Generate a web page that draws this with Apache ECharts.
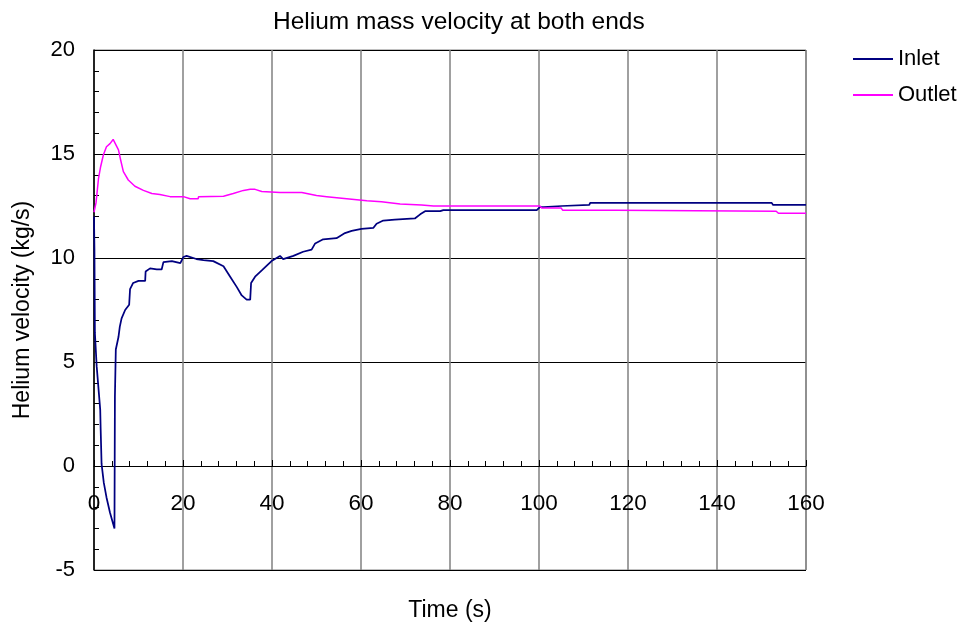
<!DOCTYPE html>
<html>
<head>
<meta charset="utf-8">
<script src="https://cdn.jsdelivr.net/npm/echarts@6/dist/echarts.min.js"></script>
<style>html,body{margin:0;padding:0;background:#fff}#c{width:963px;height:625px}</style>
</head>
<body>
<div id="c"></div>
<script>
var titleText = 'Helium mass velocity at both ends';
var xName = 'Time (s)';
var yName = 'Helium velocity (kg/s)';
var seriesNames = ['Inlet', 'Outlet'];

var inletT = [0, 0.1, 0.2, 0.6, 1.4, 1.5, 1.7, 2.2, 2.8, 3.6, 4.6, 4.7, 4.9, 5.5, 5.8, 6.2, 7.0, 7.9, 8.1, 8.8, 10, 11.5, 11.6, 12.6, 14.1, 15.2, 15.6, 17.5, 19.4, 20.1, 20.8, 23, 24.6, 26.8, 29.1, 30.6, 32.1, 33.2, 34.3, 35.1, 35.3, 36.2, 37.7, 39.9, 41.8, 42.5, 44.8, 47, 48.9, 49.7, 51.5, 54.5, 56.4, 57.9, 60.1, 62.8, 63.5, 65, 67.6, 72.1, 73.3, 74.4, 77.8, 78.5, 99.5, 100.2, 101, 105.1, 105.3, 111.3, 111.5, 152.3, 152.6, 160];
var inletV = [12.0, 10.4, 6.4, 4.8, 2.7, 1.75, 0.1, -0.8, -1.5, -2.25, -3.0, 3.35, 5.6, 6.2, 6.7, 7.1, 7.5, 7.75, 8.5, 8.8, 8.9, 8.9, 9.35, 9.5, 9.45, 9.45, 9.8, 9.85, 9.75, 10.05, 10.1, 9.95, 9.9, 9.85, 9.6, 9.1, 8.6, 8.2, 8.0, 8.0, 8.8, 9.1, 9.4, 9.85, 10.1, 9.95, 10.1, 10.3, 10.4, 10.7, 10.9, 10.95, 11.2, 11.3, 11.4, 11.45, 11.65, 11.8, 11.85, 11.9, 12.1, 12.25, 12.25, 12.3, 12.3, 12.45, 12.45, 12.5, 12.55, 12.55, 12.65, 12.65, 12.55, 12.55];

var outletT = [0, 0.45, 1.0, 1.5, 2.1, 2.8, 3.6, 4.3, 4.7, 5.5, 6.0, 6.6, 7.7, 9.2, 11.1, 13, 14.8, 17.1, 20.1, 21.6, 23.4, 23.5, 29.1, 31.3, 33.6, 35.1, 36.2, 37.7, 41.8, 46.7, 47, 50, 52.3, 56.8, 61.3, 64.6, 68.8, 73.6, 76.3, 100.2, 100.6, 105, 105.3, 117.3, 117.6, 153.3, 153.8, 160];
var outletV = [12.2, 12.65, 13.8, 14.4, 14.95, 15.35, 15.5, 15.7, 15.7, 15.2, 14.7, 14.15, 13.75, 13.45, 13.25, 13.1, 13.05, 12.95, 12.95, 12.85, 12.85, 12.95, 12.97, 13.1, 13.25, 13.3, 13.3, 13.2, 13.15, 13.15, 13.1, 13.0, 12.95, 12.85, 12.75, 12.7, 12.6, 12.55, 12.5, 12.5, 12.4, 12.4, 12.3, 12.3, 12.25, 12.25, 12.15, 12.15];

var xMin = 0, xMax = 160, xStep = 20;
var yMin = -5, yMax = 20, yStep = 5;

function zip(a, b) { return a.map(function (t, i) { return [t, b[i]]; }); }

var FONT = "'Liberation Sans', Arial, sans-serif";
var gridTop = 50, gridBottomPx = 570;
// move the x axis up to the y = 0 level (labels follow it)
var zeroOffset = -((gridBottomPx - gridTop) * (0 - yMin) / (yMax - yMin));

var chart = echarts.init(document.getElementById('c'), null, { renderer: 'canvas' });
chart.setOption({
  animation: false,
  backgroundColor: '#ffffff',
  title: {
    text: titleText, left: 268, top: 5,
    textStyle: { fontFamily: FONT, fontSize: 24.5, fontWeight: 'normal', color: '#000' }
  },
  legend: {
    orient: 'vertical', left: 848, top: 43, itemGap: 14,
    icon: 'rect', itemWidth: 40, itemHeight: 2,
    textStyle: { fontFamily: FONT, fontSize: 22, color: '#000' },
    data: seriesNames
  },
  grid: {
    left: 94, right: 157, top: gridTop, bottom: 625 - gridBottomPx,
    containLabel: false, outerBoundsMode: 'none',
    show: true, borderColor: '#808080', borderWidth: 1
  },
  xAxis: {
    type: 'value', min: xMin, max: xMax, interval: xStep,
    offset: zeroOffset,
    name: xName, nameLocation: 'middle', nameGap: 133,
    nameTextStyle: { fontFamily: FONT, fontSize: 23, color: '#000' },
    axisLine: { onZero: false, lineStyle: { color: '#000', width: 1 } },
    axisTick: { show: true, inside: true, length: 6, lineStyle: { color: '#000' } },
    minorTick: { show: true, splitNumber: 5, length: 5, lineStyle: { color: '#000' } },
    axisLabel: { fontFamily: FONT, fontSize: 22.5, color: '#000', margin: 26 },
    splitLine: { show: true, lineStyle: { color: '#808080', width: 1.5 } }
  },
  yAxis: {
    type: 'value', min: yMin, max: yMax, interval: yStep,
    name: yName, nameLocation: 'middle', nameGap: 60,
    nameTextStyle: { fontFamily: FONT, fontSize: 23, color: '#000' },
    axisLine: { show: true, onZero: false, lineStyle: { color: '#000', width: 1.5 } },
    axisTick: { show: true, inside: true, length: 6, lineStyle: { color: '#000' } },
    minorTick: { show: true, splitNumber: 5, length: 5, lineStyle: { color: '#000' } },
    axisLabel: { fontFamily: FONT, fontSize: 22, color: '#000', margin: 19 },
    splitLine: { show: true, lineStyle: { color: '#000', width: 1 } }
  },
  series: [
    { name: seriesNames[0], type: 'line', symbol: 'none', data: zip(inletT, inletV),
      lineStyle: { color: '#000080', width: 1.75 }, itemStyle: { color: '#000080' } },
    { name: seriesNames[1], type: 'line', symbol: 'none', data: zip(outletT, outletV),
      lineStyle: { color: '#ff00ff', width: 1.5 }, itemStyle: { color: '#ff00ff' } }
  ]
});
</script>
</body>
</html>
